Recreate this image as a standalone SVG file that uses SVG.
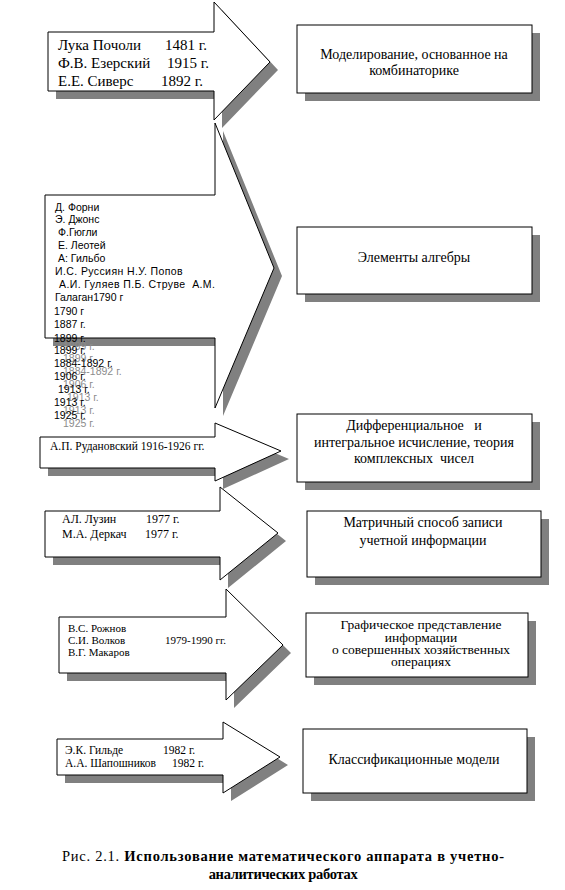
<svg xmlns="http://www.w3.org/2000/svg" width="565" height="890" viewBox="0 0 565 890">
<style>
.sh{fill:#808080;stroke:none}
.ar{fill:#fff;stroke:#000;stroke-width:1}
.bx{fill:#fff;stroke:#000;stroke-width:1}
.s{font-family:"Liberation Serif","Times New Roman",serif;fill:#000;white-space:pre}
.a{font-family:"Liberation Sans",Arial,sans-serif;font-size:10.5px;fill:#000;white-space:pre}
.g{font-family:"Liberation Sans",Arial,sans-serif;font-size:10.5px;fill:#8c8c8c}
.bt{font-size:14px;text-anchor:middle}
</style>
<rect width="565" height="890" fill="#fff"/>
<g id="connectors">
<g id="arrow1">
<polygon class="sh" points="56,40 222,40 222,10 278,70 222,128 222,99 56,99"/>
<polygon class="ar" points="48,32 214,32 214,2 270,62 214,120 214,91 48,91"/>
<g class="s" font-size="15px">
<text x="58" y="50">Лука Почоли</text><text x="165" y="50">1481 г.</text>
<text x="58" y="68">Ф.В. Езерский</text><text x="167" y="68">1915 г.</text>
<text x="58" y="86">Е.Е. Сиверс</text><text x="161" y="86">1892 г.</text>
</g>
</g>
<g id="arrow2">
<polygon class="sh" points="53,203 223,203 223,131 282,276 223,416 223,346 53,346"/>
<polygon class="ar" points="45,195 215,195 215,123 274,268 215,408 215,338 45,338"/>
<g>
<text class="g" x="63" y="350">1899 г.</text>
<text class="g" x="63" y="362">1899 г.</text>
<text class="g" x="63" y="375">1884-1892 г.</text>
<text class="g" x="63" y="388">1906 г.</text>
<text class="g" x="67" y="401">1913 г.</text>
<text class="g" x="63" y="414">1913 г.</text>
<text class="g" x="63" y="427">1925 г.</text>
</g>
<text class="a" x="55" y="211">Д. Форни</text>
<text class="a" x="55" y="223">Э. Джонс</text>
<text class="a" x="58" y="236">Ф.Гюгли</text>
<text class="a" x="58" y="249">Е. Леотей</text>
<text class="a" x="58" y="262">А: Гильбо</text>
<text class="a" x="55" y="275" letter-spacing="0.4">И.С. Руссиян Н.У. Попов</text>
<text class="a" x="59" y="288" letter-spacing="0.4">А.И. Гуляев П.Б. Струве  А.М.</text>
<text class="a" x="55" y="301">Галаган1790 г</text>
<text class="a" x="54" y="315">1790 г</text>
<text class="a" x="54" y="328">1887 г.</text>
<text class="a" x="54" y="342">1899 г.</text>
<text class="a" x="54" y="354">1899 г.</text>
<text class="a" x="54" y="367">1884-1892 г.</text>
<text class="a" x="54" y="380">1906 г.</text>
<text class="a" x="58" y="393">1913 г.</text>
<text class="a" x="54" y="406">1913 г.</text>
<text class="a" x="54" y="419">1925 г.</text>
</g>
<g id="arrow3">
<polygon class="sh" points="48,445 223,445 223,431 289,459 223,489 223,476 48,476"/>
<polygon class="ar" points="40,437 215,437 215,423 281,451 215,481 215,468 40,468"/>
<text class="s" font-size="11.5px" x="50" y="450">А.П. Рудановский 1916-1926 гг.</text>
</g>
<g id="arrow4">
<polygon class="sh" points="53,519 228,519 228,495 286,541 228,588 228,565 53,565"/>
<polygon class="ar" points="45,511 220,511 220,487 278,533 220,580 220,557 45,557"/>
<g class="s" font-size="12px">
<text x="62" y="523">АЛ. Лузин</text><text x="146" y="523">1977 г.</text>
<text x="62" y="538">М.А. Деркач</text><text x="145" y="538">1977 г.</text>
</g>
</g>
<g id="arrow5">
<polygon class="sh" points="67,625 234,625 234,597 291,653 234,708 234,681 67,681"/>
<polygon class="ar" points="59,617 226,617 226,589 283,645 226,700 226,673 59,673"/>
<g class="s" font-size="11px">
<text x="68" y="632">В.С. Рожнов</text>
<text x="68" y="644">С.И. Волков</text><text x="165" y="644">1979-1990 гг.</text>
<text x="68" y="656">В.Г. Макаров</text>
</g>
</g>
<g id="arrow6">
<polygon class="sh" points="65,747 231,747 231,730 288,765 231,801 231,783 65,783"/>
<polygon class="ar" points="57,739 223,739 223,722 280,757 223,793 223,775 57,775"/>
<g class="s" font-size="11.5px">
<text x="65" y="754">Э.К. Гильде</text><text x="163" y="754">1982 г.</text>
<text x="65" y="767">А.А. Шапошников</text><text x="172" y="767">1982 г.</text>
</g>
</g>
</g>
<g id="box1">
<rect class="sh" x="305" y="33" width="235" height="68"/>
<rect class="bx" x="297" y="25" width="235" height="68"/>
<text class="s bt" x="414" y="59">Моделирование, основанное на</text>
<text class="s bt" x="414" y="75">комбинаторике</text>
</g>
<g id="box2">
<rect class="sh" x="305" y="235" width="235" height="67"/>
<rect class="bx" x="297" y="227" width="235" height="67"/>
<text class="s bt" x="414" y="262">Элементы алгебры</text>
</g>
<g id="box3">
<rect class="sh" x="305" y="422" width="235" height="68"/>
<rect class="bx" x="297" y="414" width="235" height="68"/>
<text class="s bt" x="414" y="430">Дифференциальное   и</text>
<text class="s bt" x="414" y="447">интегральное исчисление, теория</text>
<text class="s bt" x="414" y="463">комплексных  чисел</text>
</g>
<g id="box4">
<rect class="sh" x="315" y="519" width="234" height="66"/>
<rect class="bx" x="307" y="511" width="234" height="66"/>
<text class="s bt" x="423" y="527">Матричный способ записи</text>
<text class="s bt" x="423" y="545">учетной информации</text>
</g>
<g id="box5">
<rect class="sh" x="314" y="621" width="222" height="64"/>
<rect class="bx" x="306" y="613" width="222" height="64"/>
<g class="s" font-size="13.5px" text-anchor="middle">
<text x="421" y="629">Графическое представление</text>
<text x="421" y="642">информации</text>
<text x="421" y="654">о  совершенных хозяйственных</text>
<text x="421" y="666">операциях</text>
</g>
</g>
<g id="box6">
<rect class="sh" x="311" y="737" width="224" height="64"/>
<rect class="bx" x="303" y="729" width="224" height="64"/>
<text class="s bt" x="414" y="764">Классификационные модели</text>
</g>
<g id="caption" class="s">
<text x="62" y="861" font-size="14.5px" textLength="442" lengthAdjust="spacing">Рис. 2.1. <tspan font-weight="bold">Использование математического аппарата в учетно-</tspan></text>
<text x="283" y="879" font-size="14.5px" font-weight="bold" text-anchor="middle" letter-spacing="-0.3">аналитических работах</text>
</g>
</svg>
